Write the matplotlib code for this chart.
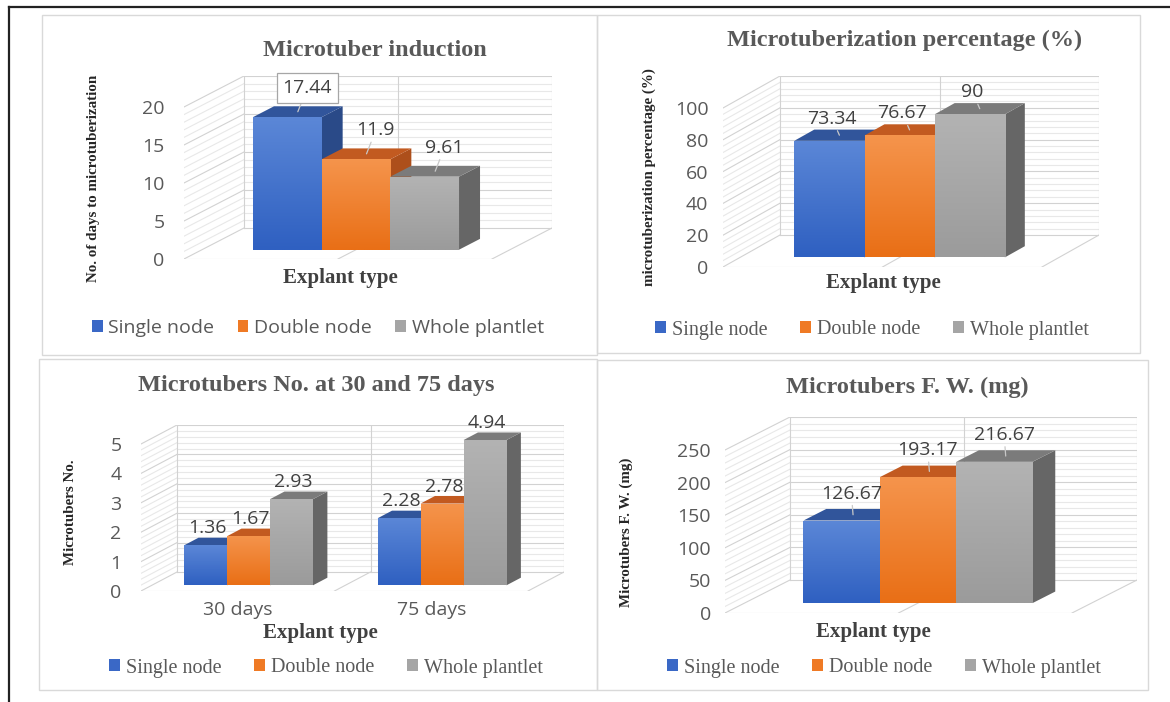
import numpy as np
import matplotlib
matplotlib.use("Agg")
import matplotlib.pyplot as plt
from matplotlib.patches import Polygon, Rectangle, Patch
from matplotlib.lines import Line2D
from matplotlib.colors import LinearSegmentedColormap

# ---------------- data ----------------
explant_types = ["Single node", "Double node", "Whole plantlet"]

induction_days = [17.44, 11.9, 9.61]
microtuberization_pct = [73.34, 76.67, 90]

tuber_periods = ["30 days", "75 days"]
tubers_no_single = [1.36, 2.28]
tubers_no_double = [1.67, 2.78]
tubers_no_whole = [2.93, 4.94]

tuber_fw_mg = [126.67, 193.17, 216.67]

chart_titles = ["Microtuber induction",
                "Microtuberization percentage (%)",
                "Microtubers No. at 30 and 75 days",
                "Microtubers F. W. (mg)"]
y_titles = ["No. of days to microtuberization",
            "microtuberization percentage (%)",
            "Microtubers No.",
            "Microtubers F. W. (mg)"]
x_title = "Explant type"

# ---------------- styling ----------------
SANS = ["Open Sans", "DejaVu Sans"]
SERIF = ["Liberation Serif", "DejaVu Serif"]

FRONT_TOP = ["#5b87d7", "#f5944c", "#b3b3b3"]
FRONT_BOT = ["#2f60c1", "#e96f16", "#9b9b9b"]
TOP_FACE = ["#31559b", "#c25a20", "#7b7b7b"]
SIDE_FACE = ["#2a4a88", "#ad4f1b", "#666666"]
LEGEND_COL = ["#3a68c6", "#ef7a25", "#a5a5a5"]

TICK_SIZE = 14
LABEL_SIZE = 14
TITLE_SIZE = 17.5
XTITLE_SIZE = 15
YTITLE_SIZE = 10.8

W_PX, H_PX = 1170, 702
fig = plt.figure(figsize=(W_PX / 100, H_PX / 100), dpi=100)
fig.patch.set_facecolor("white")


def fx(x):
    return x / W_PX


def fy(y):
    return 1 - y / H_PX


# outer frame (left and top edges)
fig.add_artist(Line2D([fx(9), fx(9)], [fy(7), fy(702)], color="#222222", lw=1.6))
fig.add_artist(Line2D([fx(9), fx(1170)], [fy(7), fy(7)], color="#222222", lw=1.6))

PANELS = [
    dict(rect=(42, 15, 597, 355), x0=184, W=308, dx=60, dy=31, zero_y=259,
         ppu=7.6, ymax=20, major=5, minor=1, bar_w=0.223, d0=0.3, d1=0.65,
         tick_pad=14, lab_dx=0.33, lab_dy=29, leader=True, boxed=True,
         title_xy=(375, 50), ylabel_xy=(94, 178), xlabel_xy=(340, 278),
         legend_xy=(318, 328), legend_family=SANS, legend_size=14,
         col_space=1.2),
    dict(rect=(597, 15, 1140, 353), x0=723, W=319, dx=57, dy=32, zero_y=267,
         ppu=1.59, ymax=100, major=20, minor=4, bar_w=0.22, d0=0.3, d1=0.65,
         tick_pad=10.5, lab_dx=0.05, lab_dy=22, leader=True, boxed=False,
         title_xy=(905, 40), ylabel_xy=(649, 177), xlabel_xy=(883, 283),
         legend_xy=(872, 330), legend_family=SERIF, legend_size=14.5,
         col_space=1.6),
    dict(rect=(39, 359, 597, 690), x0=141, W=387, dx=36, dy=19, zero_y=591,
         ppu=29.4, ymax=5, major=1, minor=0.2, bar_w=0.111, d0=0.3, d1=0.7,
         tick_pad=14, lab_dx=0.05, lab_dy=17, leader=False, boxed=False,
         title_xy=(316, 385), ylabel_xy=(71, 512), xlabel_xy=(320, 633),
         legend_xy=(326, 668), legend_family=SERIF, legend_size=14.5,
         col_space=1.6),
    dict(rect=(597, 360, 1148, 690), x0=725, W=347, dx=65, dy=33, zero_y=613,
         ppu=0.652, ymax=250, major=50, minor=10, bar_w=0.22, d0=0.3, d1=0.65,
         tick_pad=10, lab_dx=0.15, lab_dy=27, leader=True, boxed=False,
         title_xy=(907, 387), ylabel_xy=(626, 532), xlabel_xy=(873, 632),
         legend_xy=(884, 668), legend_family=SERIF, legend_size=14.5,
         col_space=1.6),
]

panel_values = [
    np.array(induction_days, dtype=float)[:, None],
    np.array(microtuberization_pct, dtype=float)[:, None],
    np.array([tubers_no_single, tubers_no_double, tubers_no_whole], dtype=float),
    np.array(tuber_fw_mg, dtype=float)[:, None],
]
panel_categories = [None, None, tuber_periods, None]

GRID_MAJOR = "#d2d2d2"
GRID_MINOR = "#e8e8e8"


def draw_panel(g, values, categories, title, ytitle):
    # panel border
    x1, y1, x2, y2 = g["rect"]
    fig.add_artist(Rectangle((fx(x1), fy(y2)), fx(x2 - x1), (y2 - y1) / H_PX,
                             transform=fig.transFigure, fill=False,
                             ec="#d9d9d9", lw=1.0))

    W, dx, dy, ppu, ymax = g["W"], g["dx"], g["dy"], g["ppu"], g["ymax"]
    ax = fig.add_axes([fx(g["x0"]), fy(g["zero_y"]),
                       (W + dx) / W_PX, (ymax * ppu + dy) / H_PX])
    ax.patch.set_alpha(0)
    for s in ax.spines.values():
        s.set_visible(False)
    DX = dx / W
    DY = dy / ppu

    # walls and floor
    levels = np.arange(0, ymax + g["minor"] / 2, g["minor"])
    for v in levels:
        r = v / g["major"]
        col = GRID_MAJOR if np.isclose(r, round(r)) else GRID_MINOR
        ax.plot([DX, 1 + DX], [v + DY, v + DY], color=col, lw=0.8, zorder=1)
        ax.plot([0, DX], [v, v + DY], color=col, lw=0.8, zorder=1)
    for xv in (DX, 0.5 + DX, 1 + DX):
        ax.plot([xv, xv], [DY, ymax + DY], color=GRID_MAJOR, lw=0.8, zorder=1)
    ax.plot([0, 1], [0, 0], color=GRID_MAJOR, lw=0.8, zorder=1)
    ax.plot([1, 1 + DX], [0, DY], color=GRID_MAJOR, lw=0.8, zorder=1)
    ax.plot([0.5, 0.5 + DX], [0, DY], color=GRID_MAJOR, lw=0.8, zorder=1)

    # bars
    n_series, n_cat = values.shape
    bw = g["bar_w"]
    d0, d1 = g["d0"], g["d1"]
    ddx, ddy = (d1 - d0) * DX, (d1 - d0) * DY
    grad = np.linspace(1, 0, 64)[:, None]
    z = 3.0
    for j in range(n_cat):
        centre = (j + 0.5) / n_cat
        start = centre - n_series * bw / 2
        for i in range(n_series):
            v = values[i, j]
            xl = start + i * bw + d0 * DX
            yb = d0 * DY
            side = Polygon([(xl + bw, yb), (xl + bw + ddx, yb + ddy),
                            (xl + bw + ddx, yb + v + ddy), (xl + bw, yb + v)],
                           closed=True, fc=SIDE_FACE[i], ec="none", zorder=z)
            top = Polygon([(xl, yb + v), (xl + bw, yb + v),
                           (xl + bw + ddx, yb + v + ddy), (xl + ddx, yb + v + ddy)],
                          closed=True, fc=TOP_FACE[i], ec="none", zorder=z + 0.01)
            ax.add_patch(side)
            ax.add_patch(top)
            bars = ax.bar(xl, v, width=bw, bottom=yb, align="edge",
                          color=FRONT_BOT[i], lw=0, zorder=z + 0.02)
            cmap = LinearSegmentedColormap.from_list(
                "face", [FRONT_BOT[i], FRONT_TOP[i]])
            im = ax.imshow(grad, extent=[xl, xl + bw, yb, yb + v], origin="upper",
                           cmap=cmap, vmin=0, vmax=1, aspect="auto",
                           interpolation="bilinear", zorder=z + 0.03)
            im.set_clip_path(bars.patches[0])
            z += 0.1

            # value label
            tx = xl + bw / 2 + g["lab_dx"] * DX
            ty = yb + v + g["lab_dy"] / ppu
            tip = (xl + bw / 2 + ddx / 2, yb + v + ddy / 2)
            if g["boxed"] and i == 0:
                bbox = dict(boxstyle="square,pad=0.3", fc="white", ec="#a6a6a6", lw=0.9)
            else:
                bbox = dict(boxstyle="square,pad=0.15", fc="none", ec="none")
            arrow = None
            if g["leader"]:
                arrow = dict(arrowstyle="-", color="#c8c8c8", lw=0.9,
                             shrinkA=0, shrinkB=0)
            ax.annotate(f"{v:g}", xy=tip, xytext=(tx, ty), textcoords="data",
                        ha="center", va="center", fontsize=LABEL_SIZE,
                        color="#404040", family=SANS, bbox=bbox,
                        arrowprops=arrow, annotation_clip=False, zorder=20)

    # axes ticks
    ticks = np.arange(0, ymax + g["major"] / 2, g["major"])
    ax.set_yticks(ticks)
    ax.set_yticklabels([f"{t:g}" for t in ticks], family=SANS)
    ax.tick_params(axis="y", length=0, pad=g["tick_pad"], labelsize=TICK_SIZE,
                   labelcolor="#595959")
    if categories:
        ax.set_xticks([(j + 0.5) / n_cat for j in range(n_cat)])
        ax.set_xticklabels(categories, family=SANS)
        ax.tick_params(axis="x", length=0, pad=7, labelsize=TICK_SIZE,
                       labelcolor="#595959")
    else:
        ax.set_xticks([])
    ax.set_xlim(0, 1 + DX)
    ax.set_ylim(0, ymax + DY)

    # texts
    fig.text(fx(g["title_xy"][0]), fy(g["title_xy"][1]), title, ha="center",
             va="center", fontsize=TITLE_SIZE, fontweight="bold",
             color="#595959", family=SERIF)
    fig.text(fx(g["ylabel_xy"][0]), fy(g["ylabel_xy"][1]), ytitle, ha="center",
             va="center", rotation=90, fontsize=YTITLE_SIZE, fontweight="bold",
             color="#262626", family=SERIF)
    fig.text(fx(g["xlabel_xy"][0]), fy(g["xlabel_xy"][1]), x_title, ha="center",
             va="center", fontsize=XTITLE_SIZE, fontweight="bold",
             color="#404040", family=SERIF)

    handles = [Patch(facecolor=LEGEND_COL[k], edgecolor="none")
               for k in range(len(explant_types))]
    fig.legend(handles, explant_types, loc="center",
               bbox_to_anchor=(fx(g["legend_xy"][0]), fy(g["legend_xy"][1])),
               ncol=3, frameon=False, handlelength=0.55, handleheight=0.55,
               handletextpad=0.3, columnspacing=g["col_space"], borderaxespad=0,
               prop=dict(family=g["legend_family"], size=g["legend_size"]),
               labelcolor="#595959")


for g, vals, cats, t, yt in zip(PANELS, panel_values, panel_categories,
                                chart_titles, y_titles):
    draw_panel(g, vals, cats, t, yt)

fig.savefig("out.png", dpi=100, facecolor="white")
